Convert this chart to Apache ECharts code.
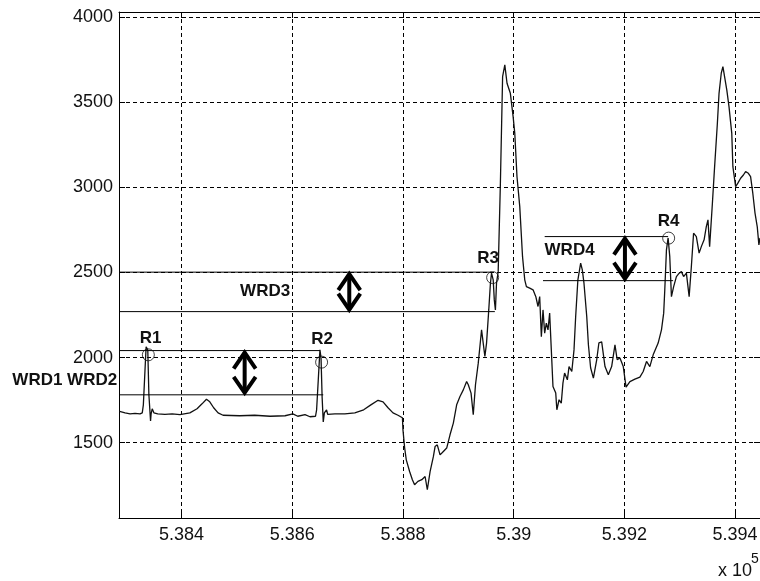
<!DOCTYPE html>
<html>
<head>
<meta charset="utf-8">
<title>WRD</title>
<script src="https://cdn.jsdelivr.net/npm/echarts@6/dist/echarts.min.js"></script>
<style>
  html, body { margin: 0; padding: 0; background: #fff; }
  #chart { width: 760px; height: 581px; }
</style>
</head>
<body>
<div id="chart"></div>
<script>
// ECG trace: sample index and amplitude
const sampleIdx = [
  538288, 538298, 538307, 538316, 538325, 538329, 538331, 538334, 538336, 538339,
  538341, 538344, 538345, 538347, 538350, 538357, 538370, 538383, 538397, 538415,
  538428, 538437, 538445, 538451, 538458, 538466, 538475, 538505, 538532, 538560,
  538587, 538601, 538610, 538623, 538632, 538642, 538644, 538647, 538650, 538652,
  538654, 538656, 538658, 538662, 538664, 538677, 538695, 538713, 538729, 538742,
  538755, 538764, 538773, 538782, 538791, 538799,
  538800, 538803, 538806, 538812, 538817, 538821, 538827, 538834, 538840, 538844,
  538849, 538855, 538858, 538862, 538867, 538873, 538879, 538885, 538891, 538897,
  538903, 538909, 538915, 538918, 538923, 538927, 538931, 538936, 538939, 538942,
  538945, 538948, 538951, 538955, 538958, 538960, 538963, 538965, 538967, 538969,
  538972,
  538976, 538980, 538984, 538988, 538994, 538999, 539002, 539006, 539011, 539016,
  539020, 539023, 539029, 539035, 539040, 539044, 539047, 539050, 539053, 539056,
  539059, 539062, 539065, 539068, 539071, 539076, 539078, 539082, 539086, 539089,
  539092, 539097, 539100, 539105, 539109, 539112, 539116, 539121, 539124, 539127,
  539132, 539135, 539139, 539144, 539150, 539154, 539159, 539165, 539171, 539177,
  539183, 539187, 539192, 539198, 539203, 539210, 539219, 539228, 539234, 539240,
  539246, 539252, 539261, 539267, 539271, 539273, 539276, 539279, 539282, 539285,
  539289, 539294, 539299, 539303, 539307, 539312, 539317, 539321, 539325, 539330,
  539335, 539339, 539344, 539348, 539351, 539354, 539359, 539363, 539368, 539371,
  539375, 539378, 539381, 539385, 539389, 539394, 539396, 539401, 539405, 539410,
  539415, 539419, 539424, 539428, 539432, 539436, 539440, 539443, 539445
];
const amplitude = [
  1684, 1675, 1669, 1672, 1669, 1675, 1722, 1928, 2063, 2045,
  1781, 1628, 1669, 1699, 1675, 1669, 1666, 1669, 1664, 1675,
  1699, 1728, 1755, 1740, 1705, 1675, 1661, 1658, 1661, 1655,
  1658, 1669, 1655, 1664, 1652, 1655, 1693, 1869, 2045, 1998,
  1763, 1622, 1675, 1693, 1666, 1669, 1669, 1675, 1693, 1722,
  1749, 1740, 1705, 1675, 1661, 1646,
  1575, 1470, 1399, 1330, 1282, 1252, 1272, 1282, 1301, 1223,
  1330, 1419, 1477, 1487, 1428, 1448, 1468, 1546, 1615, 1722,
  1771, 1810, 1859, 1840, 1791, 1664, 1840, 1967, 2065, 2163,
  2173, 2006, 2085, 2280, 2437, 2496, 2457, 2339, 2280, 2437,
  2505,
  3025, 3651, 3720, 3612, 3553, 3416, 3318, 3063, 2887, 2593,
  2457, 2417, 2408, 2398, 2358, 2300, 2358, 2123, 2280, 2143,
  2202, 2163, 2261, 2045, 1830, 1791, 1693, 1752, 1732, 1850,
  1909, 1869, 1947, 1918, 2045, 2241, 2457, 2555, 2515, 2437,
  2241, 2075, 1940, 1879, 1987, 2087, 2092, 1947, 1899, 1947,
  2075, 1987, 1998, 1947, 1826, 1859, 1873, 1885, 1918, 1977,
  1947, 2016, 2085, 2163, 2261, 2398, 2633, 2703, 2593, 2358,
  2417, 2476, 2496, 2505, 2476, 2496, 2358, 2535, 2731, 2711,
  2614, 2652, 2692, 2770, 2809, 2652, 2907, 3122, 3377, 3553,
  3671, 3710, 3651, 3573, 3475, 3318, 3122, 3005, 3025, 3054,
  3073, 3093, 3083, 3063, 2966, 2849, 2770, 2662, 2703
];

// Axis ranges and ticks
const xMin = 538287, xMax = 539445;
const yMin = 1057, yMax = 4031;
const xTicks = [538400, 538600, 538800, 539000, 539200, 539400];
const xTickLabels = ['5.384', '5.386', '5.388', '5.39', '5.392', '5.394'];
const yTicks = [1500, 2000, 2500, 3000, 3500, 4000];
const yTickLabels = ['1500', '2000', '2500', '3000', '3500', '4000'];

// Detected R peaks
const peakNames = ['R1', 'R2', 'R3', 'R4'];
const peakX = [538340, 538653, 538962, 539280];
const peakY = [2016, 1973, 2470, 2702];

// Horizontal reference levels bounding each WRD interval
const levelFrom = [xMin, xMin, xMin, xMin, 539056, 539053];
const levelTo = [538650, 538656, 538960, 538966, 539279, 539288];
const levelValue = [2041, 1781, 2502, 2270, 2711, 2452];

// Double-headed arrows marking each WRD span
const arrowX = [538514, 538703, 539201];
const arrowLow = [1781, 2270, 2452];
const arrowHigh = [2041, 2502, 2711];

// Text annotations (data coordinates)
const noteText = ['R1', 'R2', 'R3', 'R4', 'WRD1 WRD2', 'WRD3', 'WRD4'];
const noteX = [538344, 538654, 538954, 539280, 538189, 538551, 539101];
const noteY = [2116, 2108, 2584, 2799, 1869, 2388, 2629];

const FONT = '"Liberation Sans", Arial, Helvetica, sans-serif';
const INK = '#000';

const chart = echarts.init(document.getElementById('chart'), null, { renderer: 'canvas' });

function xAxisCfg(pos, showLabels) {
  return {
    type: 'value', min: xMin, max: xMax, position: pos,
    axisLine: { show: true, onZero: false, lineStyle: { color: INK, width: 1 } },
    axisTick: { show: true, inside: true, length: 6, customValues: xTicks, lineStyle: { color: INK } },
    axisLabel: {
      show: showLabels, customValues: xTicks,
      formatter: v => xTickLabels[xTicks.indexOf(v)],
      color: '#111', fontSize: 18, fontFamily: FONT, margin: 8
    },
    splitLine: { show: showLabels, lineStyle: { color: INK, width: 1, type: [4, 3] } }
  };
}
function yAxisCfg(pos, showLabels) {
  return {
    type: 'value', min: yMin, max: yMax, position: pos,
    axisLine: { show: true, onZero: false, lineStyle: { color: INK, width: 1 } },
    axisTick: { show: true, inside: true, length: 6, customValues: yTicks, lineStyle: { color: INK } },
    axisLabel: {
      show: showLabels, customValues: yTicks,
      formatter: v => yTickLabels[yTicks.indexOf(v)],
      color: '#111', fontSize: 18, fontFamily: FONT, margin: 6
    },
    splitLine: { show: showLabels, lineStyle: { color: INK, width: 1, type: [4, 3] } }
  };
}

const option = {
  backgroundColor: '#fff',
  animation: false,
  grid: { left: 119, right: 0, top: 12, bottom: 63, outerBoundsMode: 'none' },
  xAxis: [xAxisCfg('bottom', true), xAxisCfg('top', false)],
  yAxis: [yAxisCfg('left', true), yAxisCfg('right', false)],
  graphic: [
    { type: 'text', left: 718, top: 562, style: { text: 'x 10', fontSize: 18, fontFamily: FONT, fill: '#111' } },
    { type: 'text', left: 751, top: 552, style: { text: '5', fontSize: 14, fontFamily: FONT, fill: '#111' } }
  ],
  series: [
    {
      name: 'ECG', type: 'line', xAxisIndex: 0, yAxisIndex: 0,
      data: sampleIdx.map((x, i) => [x, amplitude[i]]),
      showSymbol: false, symbol: 'none',
      lineStyle: { color: '#111', width: 1.3 },
      z: 3
    },
    {
      name: 'levels', type: 'custom', xAxisIndex: 0, yAxisIndex: 0,
      data: levelFrom.map((x, i) => [x, levelTo[i], levelValue[i]]),
      encode: { x: [0, 1], y: 2 },
      renderItem: (params, api) => {
        const a = api.coord([api.value(0), api.value(2)]);
        const b = api.coord([api.value(1), api.value(2)]);
        return {
          type: 'line',
          shape: { x1: a[0], y1: a[1], x2: b[0], y2: b[1] },
          style: { stroke: INK, lineWidth: 1 }
        };
      },
      z: 4
    },
    {
      name: 'arrows', type: 'custom', xAxisIndex: 0, yAxisIndex: 0,
      data: arrowX.map((x, i) => [x, arrowLow[i], arrowHigh[i]]),
      encode: { x: 0, y: [1, 2] },
      renderItem: (params, api) => {
        const t = api.coord([api.value(0), api.value(2)]);
        const b = api.coord([api.value(0), api.value(1)]);
        const hw = 11, hh = 18;
        const st = { stroke: INK, lineWidth: 4, fill: null, lineJoin: 'miter', lineCap: 'butt' };
        return {
          type: 'group',
          children: [
            { type: 'line', shape: { x1: t[0], y1: t[1] + 2, x2: b[0], y2: b[1] - 2 }, style: st },
            { type: 'polyline', shape: { points: [[t[0] - hw, t[1] + hh], [t[0], t[1] + 2], [t[0] + hw, t[1] + hh]] }, style: st },
            { type: 'polyline', shape: { points: [[b[0] - hw, b[1] - hh], [b[0], b[1] - 2], [b[0] + hw, b[1] - hh]] }, style: st }
          ]
        };
      },
      z: 5
    },
    {
      name: 'peaks', type: 'scatter', xAxisIndex: 0, yAxisIndex: 0,
      data: peakX.map((x, i) => [x, peakY[i]]),
      symbol: 'circle', symbolSize: 12,
      itemStyle: { color: 'rgba(0,0,0,0)', borderColor: '#111', borderWidth: 1 },
      z: 6
    },
    {
      name: 'notes', type: 'custom', xAxisIndex: 0, yAxisIndex: 0,
      clip: false,
      data: noteX.map((x, i) => [x, noteY[i], i]),
      encode: { x: 0, y: 1 },
      renderItem: (params, api) => {
        const p = api.coord([api.value(0), api.value(1)]);
        return {
          type: 'text',
          x: p[0], y: p[1],
          style: {
            text: noteText[api.value(2)],
            fontSize: 17, fontWeight: 'bold', fontFamily: FONT,
            fill: '#111', align: 'center', verticalAlign: 'middle'
          }
        };
      },
      z: 7
    }
  ]
};

chart.setOption(option);
</script>
</body>
</html>
